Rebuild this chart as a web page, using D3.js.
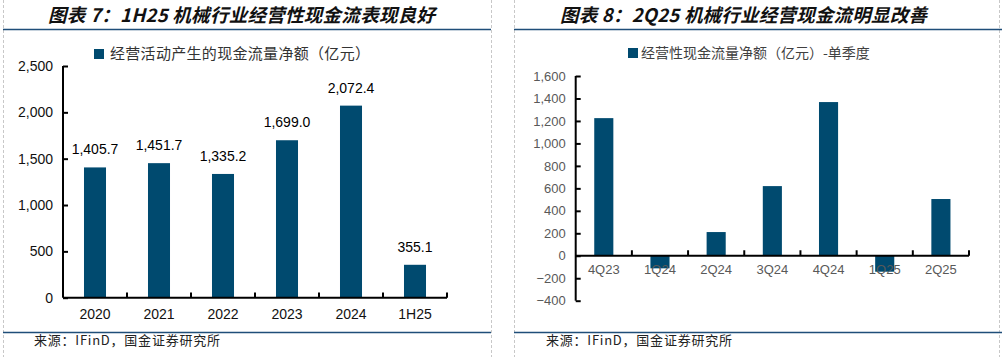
<!DOCTYPE html>
<html><head><meta charset="utf-8">
<script src="https://cdn.jsdelivr.net/npm/d3@7"></script>
<style>body{margin:0;background:#fff}svg{display:block}</style>
</head><body>
<script>
const leftCategories = ["2020","2021","2022","2023","2024","1H25"];
const leftValues = [1405.7,1451.7,1335.2,1699.0,2072.4,355.1];
const leftTicks = [0,500,1000,1500,2000,2500];
const rightCategories = ["4Q23","1Q24","2Q24","3Q24","4Q24","1Q25","2Q25"];
const rightValues = [1225,-112,211,620,1368,-142,505];
const rightTicks = [-400,-200,0,200,400,600,800,1000,1200,1400,1600];
const leftTitle = "图表 7：1H25 机械行业经营性现金流表现良好";
const rightTitle = "图表 8：2Q25 机械行业经营现金流明显改善";
const leftLegend = "经营活动产生的现金流量净额（亿元）";
const rightLegend = "经营性现金流量净额（亿元）-单季度";
const source = "来源：IFinD，国金证券研究所";

const W=1002,H=357, barColor="#004a6f", navy="#1f4e79";
const svg=d3.select("body").append("svg").attr("width",W).attr("height",H);
const cjk="'Noto Sans CJK SC','Noto Sans',sans-serif";
const latin="'Liberation Sans',Arial,sans-serif";

// frame lines
[[3],[491],[514],[999]].forEach(([x])=>{
  svg.append("line").attr("x1",x+0.5).attr("x2",x+0.5).attr("y1",0).attr("y2",H)
    .attr("stroke","#c8c8c8").attr("stroke-dasharray","3,2");
});
svg.append("line").attr("x1",3).attr("x2",491).attr("y1",29.5).attr("y2",29.5).attr("stroke",navy).attr("stroke-width",1.5);
svg.append("line").attr("x1",514).attr("x2",1002).attr("y1",29.5).attr("y2",29.5).attr("stroke",navy).attr("stroke-width",1.5);
svg.append("line").attr("x1",3).attr("x2",491).attr("y1",332.5).attr("y2",332.5).attr("stroke",navy).attr("stroke-width",1.5);
svg.append("line").attr("x1",514).attr("x2",1002).attr("y1",332.5).attr("y2",332.5).attr("stroke",navy).attr("stroke-width",1.5);

// titles
svg.append("text").attr("x",48).attr("y",22).text(leftTitle).attr("textLength",387).attr("lengthAdjust","spacing")
  .attr("font-family",cjk).attr("font-size",18.5).attr("font-weight","bold").attr("font-style","italic").attr("fill","#111");
svg.append("text").attr("x",560).attr("y",22).text(rightTitle).attr("textLength",367).attr("lengthAdjust","spacing")
  .attr("font-family",cjk).attr("font-size",18.5).attr("font-weight","bold").attr("font-style","italic").attr("fill","#111");
// sources
svg.append("text").attr("x",34).attr("y",345).text(source).attr("textLength",186).attr("lengthAdjust","spacing")
  .attr("font-family",cjk).attr("font-size",13).attr("fill","#222");
svg.append("text").attr("x",546).attr("y",345).text(source).attr("textLength",186).attr("lengthAdjust","spacing")
  .attr("font-family",cjk).attr("font-size",13).attr("fill","#222");

// ---- Left chart ----
{
  const x=d3.scaleBand().domain(leftCategories).range([63,447]).paddingInner(0.656).paddingOuter(0.328);
  const y=d3.scaleLinear().domain([0,2500]).range([297.7,66]);
  const g=svg.append("g");
  // legend
  g.append("rect").attr("x",94).attr("y",49).attr("width",10).attr("height",10).attr("fill",barColor);
  g.append("text").attr("x",110).attr("y",59).text(leftLegend).attr("textLength",260).attr("lengthAdjust","spacing")
    .attr("font-family",cjk).attr("font-size",15).attr("fill","#333");
  g.selectAll("rect.bar").data(leftValues).join("rect").attr("class","bar")
    .attr("x",(d,i)=>x(leftCategories[i])).attr("width",x.bandwidth())
    .attr("y",d=>y(d)).attr("height",d=>y(0)-y(d)).attr("fill",barColor);
  g.selectAll("text.lab").data(leftValues).join("text").attr("class","lab")
    .attr("x",(d,i)=>x(leftCategories[i])+x.bandwidth()/2).attr("y",d=>y(d)-13)
    .attr("text-anchor","middle").attr("font-family",latin).attr("font-size",14).attr("fill","#000")
    .text(d=>d3.format(",.1f")(d));
  const ya=g.append("g").attr("transform","translate(63,0)")
    .call(d3.axisRight(y).tickValues(leftTicks).tickSize(5).tickFormat(d3.format(",")));
  ya.select(".domain").attr("stroke","#000").attr("stroke-width",2).attr("d","M0,66V297.7");
  ya.selectAll(".tick line").attr("stroke","#000").attr("stroke-width",2);
  ya.selectAll(".tick text").attr("x",-10).attr("text-anchor","end").attr("font-family",latin).attr("font-size",14).attr("fill","#111");
  const xa=g.append("g").attr("transform","translate(0,297.7)")
    .call(d3.axisBottom(x).tickSize(0));
  xa.select(".domain").attr("stroke","#000").attr("stroke-width",2).attr("d","M63,0H447");
  xa.selectAll(".tick text").attr("y",11).attr("font-family",latin).attr("font-size",14).attr("fill","#111");
  const step=x.step();
  g.selectAll("line.xt").data(d3.range(1,7)).join("line").attr("class","xt")
    .attr("x1",i=>63+i*step).attr("x2",i=>63+i*step).attr("y1",297.7).attr("y2",292.5)
    .attr("stroke","#000").attr("stroke-width",2);
}

// ---- Right chart ----
{
  const x0=575.7,x1=969;
  const x=d3.scaleBand().domain(rightCategories).range([x0,x1]).paddingInner(0.66).paddingOuter(0.33);
  const y=d3.scaleLinear().domain([-400,1600]).range([300.7,76]);
  const g=svg.append("g");
  g.append("rect").attr("x",628).attr("y",48).attr("width",10).attr("height",10).attr("fill",barColor);
  g.append("text").attr("x",641).attr("y",58).text(rightLegend).attr("font-family",cjk).attr("font-size",14).attr("fill","#404040");
  g.selectAll("rect.bar").data(rightValues).join("rect").attr("class","bar")
    .attr("x",(d,i)=>x(rightCategories[i])).attr("width",x.bandwidth())
    .attr("y",d=>y(Math.max(0,d))).attr("height",d=>Math.abs(y(d)-y(0))).attr("fill",barColor);
  const ya=g.append("g").attr("transform",`translate(${x0},0)`)
    .call(d3.axisRight(y).tickValues(rightTicks).tickSize(5).tickFormat(d3.format(",")));
  ya.select(".domain").attr("stroke","#000").attr("stroke-width",2).attr("d","M0,76V300.7");
  ya.selectAll(".tick line").attr("stroke","#000").attr("stroke-width",2);
  ya.selectAll(".tick text").attr("x",-10).attr("text-anchor","end").attr("font-family",latin).attr("font-size",13).attr("fill","#595959");
  const xa=g.append("g").attr("transform",`translate(0,${y(0)})`)
    .call(d3.axisBottom(x).tickSize(0));
  xa.select(".domain").attr("stroke","#000").attr("stroke-width",2).attr("d",`M${x0},0H${x1}`);
  xa.selectAll(".tick text").attr("y",9).attr("font-family",latin).attr("font-size",13).attr("fill","#595959");
  const step=x.step();
  g.selectAll("line.xt").data(d3.range(1,8)).join("line").attr("class","xt")
    .attr("x1",i=>x0+i*step).attr("x2",i=>x0+i*step).attr("y1",y(0)).attr("y2",y(0)-5.5)
    .attr("stroke","#000").attr("stroke-width",2);
}
</script>
</body></html>
